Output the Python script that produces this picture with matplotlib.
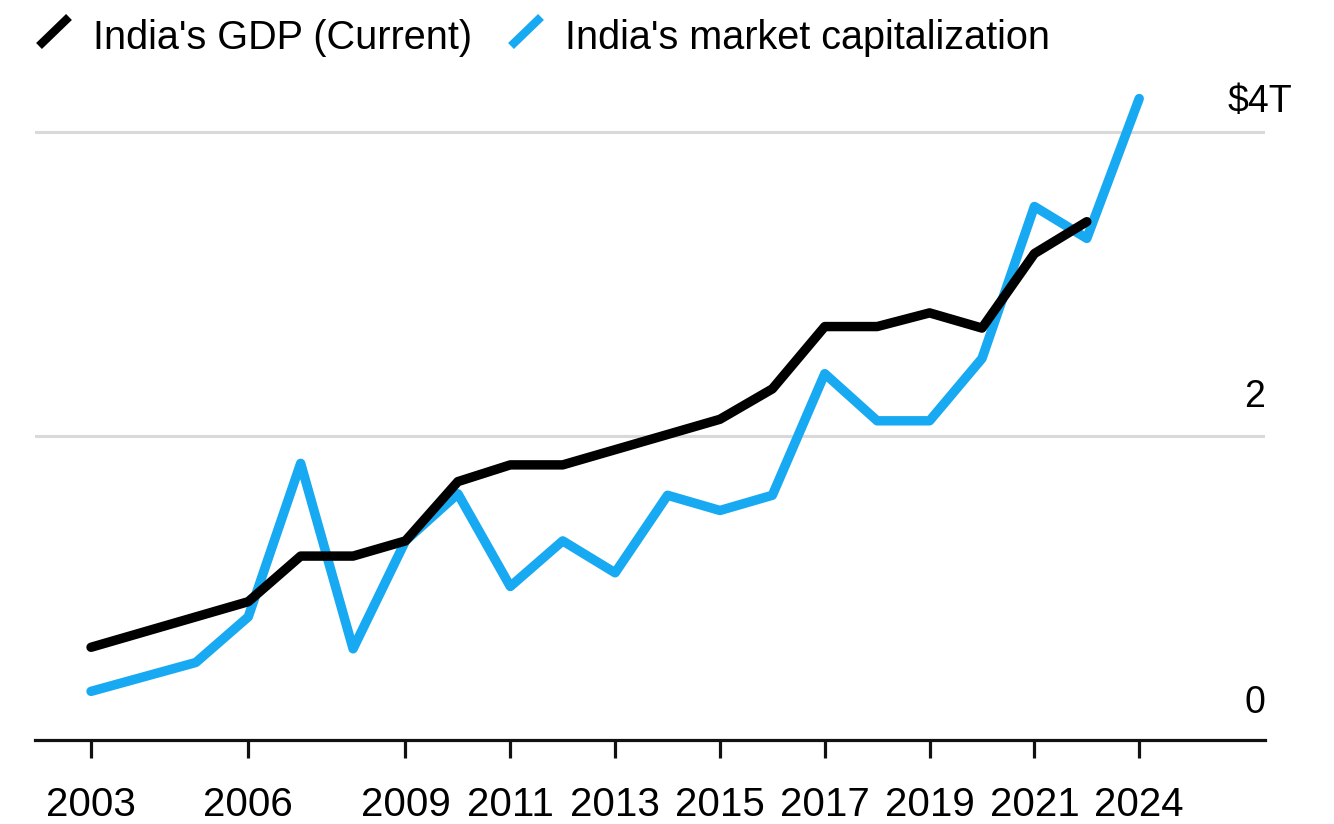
import numpy as np
import matplotlib
matplotlib.use("Agg")
import matplotlib.pyplot as plt
from matplotlib.lines import Line2D

plt.rcParams['font.family'] = ['Liberation Sans', 'DejaVu Sans']

# categorical x axis (2023 not shown in source)
periods = [str(y) for y in range(2003, 2023)] + ['2024']
tick_years = ['2003', '2006', '2009', '2011', '2013', '2015', '2017', '2019', '2021', '2024']

# India's GDP, current US$ trillions
gdp_years = ['2003', '2006', '2007', '2008', '2009', '2010', '2011', '2012', '2013',
             '2014', '2015', '2016', '2017', '2018', '2019', '2020', '2021', '2022']
gdp = [0.61, 0.91, 1.21, 1.21, 1.31, 1.70, 1.81, 1.81, 1.91,
       2.01, 2.11, 2.31, 2.72, 2.72, 2.81, 2.71, 3.20, 3.41]

# India's market capitalization, US$ trillions
mcap_years = ['2003', '2005', '2006', '2007', '2008', '2009', '2010', '2011', '2012', '2013',
              '2014', '2015', '2016', '2017', '2018', '2019', '2020', '2021', '2022', '2024']
mcap = [0.32, 0.51, 0.81, 1.82, 0.60, 1.31, 1.62, 1.01, 1.31, 1.10,
        1.61, 1.51, 1.61, 2.41, 2.10, 2.10, 2.51, 3.51, 3.30, 4.22]

ylabels = ['0', '2', '$4T']
ylevels = [0, 2, 4]

BLACK = '#000000'
BLUE = '#17a9f1'

W, H = 1334, 824
fig = plt.figure(figsize=(W/100, H/100), dpi=100)
fig.patch.set_facecolor('white')
ax = fig.add_axes([35/W, (H-740)/H, 1230/W, 4.5*152/H])

gx = [periods.index(y) for y in gdp_years]
mx = [periods.index(y) for y in mcap_years]

for lv in ylevels[1:]:
    ax.axhline(lv, color='#d9d9d9', lw=2.2, zorder=0)

ax.plot(gx, gdp, color=BLACK, lw=6.8, solid_capstyle='round', solid_joinstyle='round', zorder=3)
ax.plot(mx, mcap, color=BLUE, lw=6.8, solid_capstyle='round', solid_joinstyle='round', zorder=2)

ax.set_xlim(-1.069, 22.40)
ax.set_ylim(0, 4.5)
for s in ['top', 'right', 'left']:
    ax.spines[s].set_visible(False)
ax.spines['bottom'].set_linewidth(2.3)
ax.spines['bottom'].set_color('#111111')
ax.set_yticks([])
ax.set_xticks([periods.index(y) for y in tick_years])
ax.set_xticklabels(tick_years)
ax.tick_params(axis='x', length=13, width=2.3, color='#111111', pad=20, labelsize=29)

# y labels sitting above gridlines at right
trans = ax.get_yaxis_transform()
ax.text(1.0, 0.18, ylabels[0], transform=trans, ha='right', va='baseline', fontsize=27)
ax.text(1.0, 2.19, ylabels[1], transform=trans, ha='right', va='baseline', fontsize=27)
ax.text(1.022, 4.13, ylabels[2], transform=trans, ha='right', va='baseline', fontsize=27)

# legend with slanted strokes
for x0, col, lab, tx in [(39, BLACK, "India's GDP (Current)", 93),
                         (511, BLUE, "India's market capitalization", 565)]:
    fig.add_artist(Line2D([x0/W, (x0+30)/W], [1-46/H, 1-17/H], color=col, lw=6.0,
                          solid_capstyle='butt', transform=fig.transFigure))
    fig.text(tx/W, 1-49/H, lab, ha='left', va='baseline', fontsize=28.5)

fig.savefig('out.png', dpi=100)
